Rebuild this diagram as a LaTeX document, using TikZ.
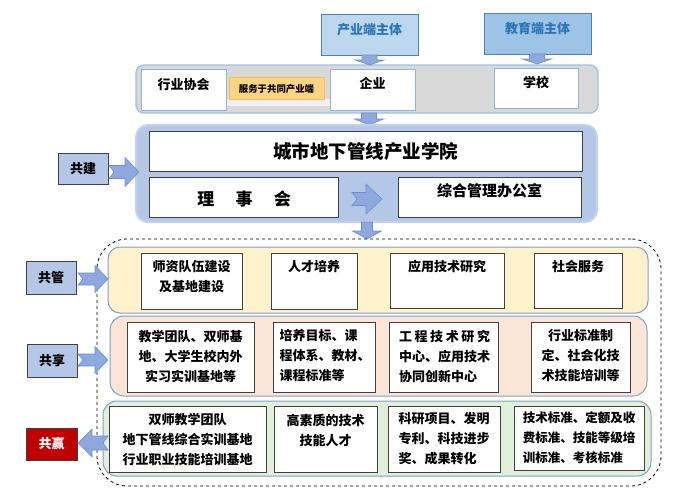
\documentclass[tikz,border=0pt]{standalone}
\usepackage{fontspec}
\setmainfont{Noto Sans CJK SC}
\usetikzlibrary{fit,calc}
\definecolor{panelgray}{HTML}{D9D9D9}
\definecolor{lightblueline}{HTML}{9DC3E6}
\definecolor{boxblueline}{HTML}{8FB4E3}
\definecolor{panelblue}{HTML}{B4C7E7}
\definecolor{panelblueline}{HTML}{C3D2EC}
\definecolor{cyfill}{HTML}{BDD7EE}
\definecolor{jyfill}{HTML}{9DC3E6}
\definecolor{topline}{HTML}{4F7FB5}
\definecolor{toptext}{HTML}{2E75B6}
\definecolor{servfill}{HTML}{FFD584}
\definecolor{servline}{HTML}{F2C14E}
\definecolor{yellowp}{HTML}{FFF2CC}
\definecolor{peachp}{HTML}{FBE5D6}
\definecolor{greenp}{HTML}{E2F0D9}
\definecolor{pline}{HTML}{7F9FCB}
\definecolor{darkline}{HTML}{404040}
\definecolor{arrowfill}{HTML}{8FA9DE}
\definecolor{arrowline}{HTML}{6E8ED3}
\definecolor{winred}{HTML}{C00000}
\tikzset{
  fitbox/.style={inner sep=0pt, outer sep=0pt},
  wbox/.style={fitbox, draw=darkline, line width=0.9pt, fill=white},
  lbbox/.style={fitbox, draw=boxblueline, line width=0.9pt, fill=white},
  panel/.style={fitbox, rounded corners=12pt, line width=1pt, draw=pline},
  tag/.style={fitbox, draw=darkline, line width=0.9pt, fill=panelblue},
  txt/.style={inner sep=0pt, font=\fontsize{13}{20}\selectfont\bfseries, align=center},
  txtl/.style={txt, align=left},
  blockarrow/.style={fill=arrowfill, draw=arrowline, line width=0.6pt, line join=miter},
  pics/narrow/.style n args={5}{code={
    \path[blockarrow] (0,-#3) -- ({#1-#2},-#3) -- ({#1-#2},-#4) -- (#1,0)
      -- ({#1-#2},#4) -- ({#1-#2},#3) -- (0,#3) -- (#5,0) -- cycle;
  }}
}
\begin{document}
\begin{tikzpicture}[x=1pt,y=-1pt]
\useasboundingbox (0,0) rectangle (682,493);

% --- top subjects
\node[fitbox, draw=topline, line width=0.9pt, fill=cyfill, fit={(321,14) (418,55)}] (cy) {};
\node[txt, text=toptext] (cyt) at (369.5,30) {产业端主体};
\node[fitbox, draw=topline, line width=0.9pt, fill=jyfill, fit={(484,13) (591,54)}] (jy) {};
\node[txt, text=toptext] (jyt) at (537.5,28) {教育端主体};

% --- gray panel
\node[fitbox, rounded corners=8pt, fill=panelgray, draw=lightblueline, line width=1.4pt, fit={(136,65) (598,113)}] (gp) {};
\fill[white!60!panelgray] (226,99) rectangle (330,106);
\node[lbbox, fit={(141,69) (226,110)}] (hy) {};
\node[txt] (hyt) at (183.5,85) {行业协会};
\node[fitbox, fill=servfill, draw=servline, line width=0.9pt, fit={(229,77) (324,99)}] (sv) {};
\node[txt, font=\fontsize{9.4}{11}\selectfont\bfseries] (svt) at (276.5,89) {服务于共同产业端};
\node[lbbox, fit={(330,69) (415,110)}] (qy) {};
\node[txt] (qyt) at (372.5,83) {企业};
\node[lbbox, fit={(494,68) (578,108)}] (xx) {};
\node[txt] (xxt) at (536,82) {学校};

\pic at (cy.south) [rotate=-90] {narrow={10}{5}{7.5}{14.5}{0}};
\pic at (537,54) [rotate=-90] {narrow={10}{5}{7.5}{14.5}{0}};
\pic at (369,113) [rotate=-90] {narrow={12}{6}{7.5}{14.5}{0}};

% --- blue panel
\node[fitbox, rounded corners=12pt, fill=panelblue, draw=panelblueline, line width=2pt, fit={(136,125) (597,222)}] (bp) {};
\node[wbox, fit={(149,131) (582,171)}] (xy) {};
\node[txt, font=\fontsize{18.5}{22}\selectfont\bfseries] (xyt) at (xy.center) {城市地下管线产业学院};
\node[wbox, fit={(149,177) (338,217)}] (lsh) {};
\node[txt, font=\fontsize{17}{22}\selectfont\bfseries] (lsht) at (244,199) {理\hspace{1.25em}事\hspace{1.25em}会};
\node[wbox, fit={(398,177) (581,217)}] (zh) {};
\node[txt, font=\fontsize{15}{20}\selectfont\bfseries] (zht) at (489.5,191) {综合管理办公室};
\pic at (352,199) {narrow={30}{16}{6.5}{15}{5}};

\node[tag, fit={(58,153) (108,184)}] (gj) {};
\node[txt] (gjt) at (gj.center) {共建};
\pic at (109,172) {narrow={30}{14}{6.5}{14.5}{5}};

\pic at (367,222) [rotate=-90] {narrow={17}{8}{5.5}{14.5}{0}};

% --- dashed container
\node[fitbox, draw=black, dashed, line width=0.8pt, rounded corners=30pt, fit={(97,239) (661,486)}] (dc) {};

% --- yellow row
\node[panel, fill=yellowp, fit={(108,247) (648,313)}] (yp) {};
\node[wbox, fit={(141,253) (242,309)}] (y1) {};
\node[txt] (y1t) at (191.5,277) {师资队伍建设\\及基地建设};
\node[wbox, fit={(271,253) (357,309)}] (y2) {};
\node[txt] (y2t) at (314,267) {人才培养};
\node[wbox, fit={(390,253) (504,308)}] (y3) {};
\node[txt] (y3t) at (447,267) {应用技术研究};
\node[wbox, fit={(534,253) (622,308)}] (y4) {};
\node[txt] (y4t) at (578,267) {社会服务};
\node[tag, fit={(26,261) (76,294)}] (gg) {};
\node[txt] (ggt) at (gg.center) {共管};
\pic at (78,279) {narrow={30}{13}{6}{13.5}{5}};

% --- peach row
\node[panel, rounded corners=14pt, fill=peachp, fit={(110,316) (647,396)}] (pp) {};
\node[wbox, fit={(127,322) (254,392)}] (p1) {};
\node[txt] (p1t) at (190.5,356) {教学团队、双师基\\地、大学生校内外\\实习实训基地等};
\node[wbox, fit={(273,322) (375,392)}] (p2) {};
\node[txtl] (p2t) at (325,356) {培养目标、课\\程体系、教材、\\课程标准等};
\node[wbox, fit={(389,322) (498,392)}] (p3) {};
\node[txtl] (p3t) at (444.5,356) {工\hspace{2.6pt}程\hspace{2.6pt}技\hspace{2.6pt}术\hspace{2.6pt}研\hspace{2.6pt}究\\中心、应用技术\\协同创新中心};
\node[wbox, fit={(531,322) (630,392)}] (p4) {};
\node[txt] (p4t) at (580.5,356) {行业标准制\\定、社会化技\\术技能培训等};
\node[tag, fit={(27,344) (77,377)}] (gx) {};
\node[txt] (gxt) at (gx.center) {共享};
\pic at (78,360) {narrow={30}{13}{6}{13.5}{5}};

% --- green row
\node[panel, rounded corners=14pt, fill=greenp, fit={(103,401) (651,476)}] (gpn) {};
\node[wbox, fit={(109,406) (266,472)}] (g1) {};
\node[txt] (g1t) at (187.5,439) {双师教学团队\\地下管线综合实训基地\\行业职业技能培训基地};
\node[wbox, fit={(274,406) (377,472)}] (g2) {};
\node[txt] (g2t) at (325.5,430) {高素质的技术\\技能人才};
\node[wbox, fit={(388,406) (500,472)}] (g3) {};
\node[txtl] (g3t) at (444,439) {科研项目、发明\\专利、科技进步\\奖、成果转化};
\node[wbox, fit={(514,406) (644,470)}] (g4) {};
\node[txtl, font=\fontsize{12.5}{20}\selectfont\bfseries] (g4t) at (579,438) {技术标准、定额及收\\费标准、技能等级培\\训标准、考核标准};
\node[fitbox, draw=darkline, line width=0.9pt, fill=winred, fit={(26,428) (77,460)}] (gy) {};
\node[txt, text=white] (gyt) at (gy.center) {共赢};
\pic at (108,443) [rotate=180] {narrow={30}{14}{7}{14}{5}};
\end{tikzpicture}
\end{document}
